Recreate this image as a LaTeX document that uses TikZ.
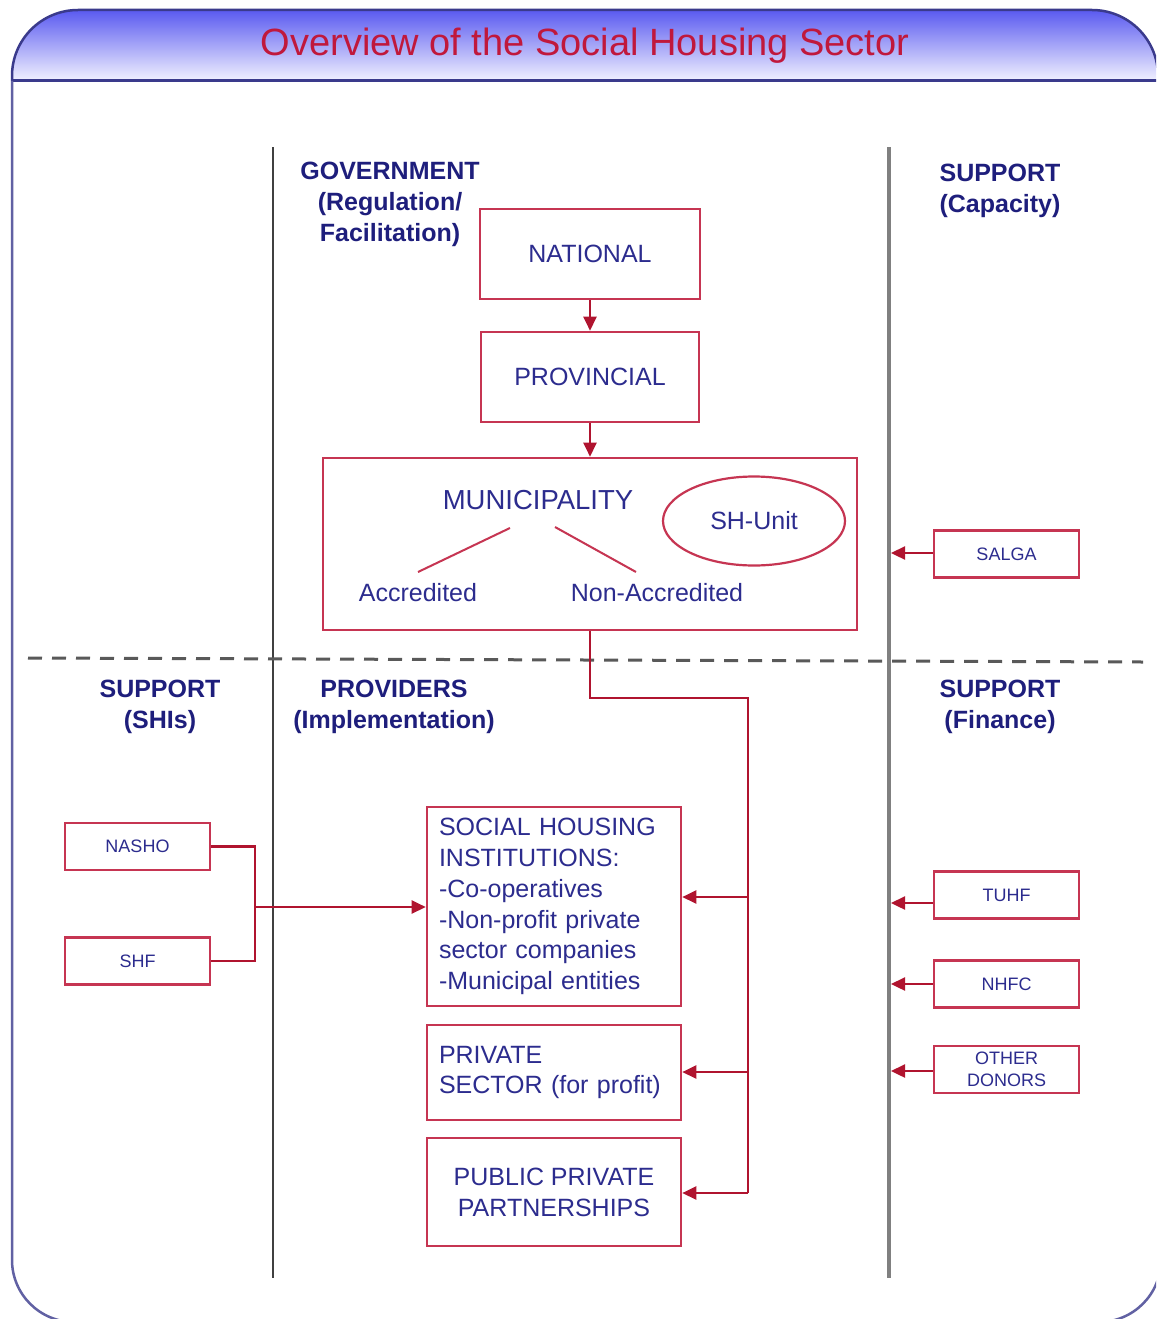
\documentclass[tikz,border=0pt]{standalone}
\usepackage{fontspec}
\setmainfont{Liberation Sans}
\usetikzlibrary{arrows.meta,shapes.geometric}
\definecolor{boxred}{HTML}{C63552}
\definecolor{connred}{HTML}{B0142F}
\definecolor{nodeblue}{HTML}{2C2C8E}
\definecolor{hdrblue}{HTML}{1E1E7C}
\definecolor{titlered}{HTML}{C0183C}
\definecolor{tbartop}{HTML}{5A5AF0}
\definecolor{tbarbot}{HTML}{F2F2FF}
\definecolor{framecol}{HTML}{3A3A8C}
\newcommand\myfs[2]{\fontsize{#1}{#2}\selectfont}
\tikzset{
  box/.style={draw=boxred, line width=2.6pt, fill=white, inner sep=0pt, text=nodeblue, font=\myfs{25}{30.8}},
  smallbox/.style={draw=boxred, line width=2.4pt, fill=white, minimum width=145pt, minimum height=47pt, inner sep=0pt, text=nodeblue, font=\myfs{18}{22}, align=center},
  hdr/.style={text=hdrblue, font=\bfseries\myfs{25}{31}, align=center, inner sep=0pt},
  lbl/.style={text=nodeblue, font=\myfs{25}{30.8}, inner sep=0pt},
  conn/.style={draw=connred, line width=2.4pt},
  arr/.style={conn, -{Triangle[length=14pt,width=13pt]}},
}
\begin{document}
\begin{tikzpicture}[x=1pt,y=-1pt]
\useasboundingbox (0,0) rectangle (1156,1319);
\clip (0,0) rectangle (1156,1319);
\fill[white] (0,0) rectangle (1156,1319);
% title bar
\shade[top color=tbartop, bottom color=tbarbot]
  (12,81) -- (12,76) .. controls (12,39.5) and (41.5,10) .. (78,10)
  -- (1092,10) .. controls (1128.5,10) and (1158,39.5) .. (1158,76) -- (1158,81) -- cycle;
\draw[framecol, line width=2.5pt]
  (12,81) -- (12,76) .. controls (12,39.5) and (41.5,10) .. (78,10)
  -- (1092,10) .. controls (1128.5,10) and (1158,39.5) .. (1158,76) -- (1158,81);
\draw[framecol, line width=3pt] (12,81) -- (1158,81);
% frame body
\draw[framecol!80, line width=2.5pt]
  (12,81) -- (12,1260) .. controls (12,1294.2) and (39.8,1322) .. (74,1322)
  -- (1099,1322) .. controls (1133.2,1322) and (1161,1294.2) .. (1161,1260) -- (1161,81);
\node[text=titlered, font=\myfs{38}{44}, inner sep=0pt] (title) at (585,46) {Overview of the Social Housing Sector};

% dividers
\draw[black!75, line width=2.2pt] (273,147) -- (273,1278);
\draw[black!50, line width=3.5pt] (889,147) -- (889,1278);
\draw[black!65, line width=3pt, dash pattern=on 14pt off 10pt] (28,658) -- (1143,662);

% headers
\node[hdr] (hgov) at (390,204) {GOVERNMENT\\(Regulation/\\Facilitation)};
\node[hdr] (hcap) at (1000,191) {SUPPORT\\(Capacity)};
\node[hdr] (hshi) at (160,707) {SUPPORT\\(SHIs)};
\node[hdr] (hprov) at (394,707) {PROVIDERS\\(Implementation)};
\node[hdr] (hfin) at (1000,707) {SUPPORT\\(Finance)};

% government chain
\node[box, minimum width=220pt, minimum height=90pt] (nat) at (590,254) {NATIONAL};
\node[box, minimum width=218pt, minimum height=90pt] (prov) at (590,377) {PROVINCIAL};
\node[box, minimum width=534pt, minimum height=172pt] (muni) at (590,544) {};
\node[lbl, font=\myfs{27.5}{32}] (munil) at (538,500) {MUNICIPALITY};
\node[draw=boxred, line width=2.2pt, ellipse, minimum width=182pt, minimum height=89pt, inner sep=0pt, text=nodeblue, font=\myfs{25}{30}] (shunit) at (754,521) {SH-Unit};
\node[lbl] (accr) at (418,593) {Accredited};
\node[lbl] (nacc) at (657,593) {Non-Accredited};
\coordinate (ma) at (510,528);
\coordinate (mb) at (555,527);
\coordinate (aa) at (418,572);
\coordinate (nb) at (636,572);
\draw[draw=boxred, line width=2pt] (ma) -- (aa);
\draw[draw=boxred, line width=2pt] (mb) -- (nb);
\draw[arr] (nat) -- (prov);
\draw[arr] (prov) -- (muni);

% providers
\node[box, minimum width=254pt, minimum height=199pt, text width=230pt, inner xsep=12pt, align=left] (shi) at (554,906.5)
  {SOCIAL HOUSING\\INSTITUTIONS:\\-Co-operatives\\-Non-profit private\\sector companies\\-Municipal entities};
\node[box, minimum width=254pt, minimum height=95pt, text width=230pt, inner xsep=12pt, align=left] (priv) at (554,1072.5)
  {PRIVATE\\SECTOR (for profit)};
\node[box, minimum width=254pt, minimum height=108pt, align=center] (ppp) at (554,1192)
  {PUBLIC PRIVATE\\PARTNERSHIPS};

% municipality to providers
\coordinate (m1) at (590,698);
\coordinate (m2) at (748,698);
\coordinate (b1) at (748,897);
\coordinate (b2) at (748,1072);
\coordinate (b3) at (748,1193);
\draw[conn] (muni.south) -- (m1) -- (m2) -- (b3);
\draw[arr] (b1) -- (b1 -| shi.east);
\draw[arr] (b2) -- (b2 -| priv.east);
\draw[arr] (b3) -- (b3 -| ppp.east);

% SHI support
\node[smallbox] (nasho) at (137.5,846.5) {NASHO};
\node[smallbox] (shf) at (137.5,961) {SHF};
\coordinate (s1) at (255,846.5);
\coordinate (s2) at (255,961);
\coordinate (s3) at (255,907);
\draw[conn] (nasho.east) -- (s1) -- (s2) -- (shf.east);
\draw[arr] (s3) -- (s3 -| shi.west);

% right support
\node[smallbox] (salga) at (1006.5,554) {SALGA};
\node[smallbox] (tuhf) at (1006.5,895) {TUHF};
\node[smallbox] (nhfc) at (1006.5,984) {NHFC};
\node[smallbox] (other) at (1006.5,1069.5) {OTHER\\DONORS};
\coordinate (d1) at (891,553);
\coordinate (d2) at (891,903);
\coordinate (d3) at (891,984);
\coordinate (d4) at (891,1071);
\draw[arr] (d1 -| salga.west) -- (d1);
\draw[arr] (d2 -| tuhf.west) -- (d2);
\draw[arr] (d3 -| nhfc.west) -- (d3);
\draw[arr] (d4 -| other.west) -- (d4);
\end{tikzpicture}
\end{document}
